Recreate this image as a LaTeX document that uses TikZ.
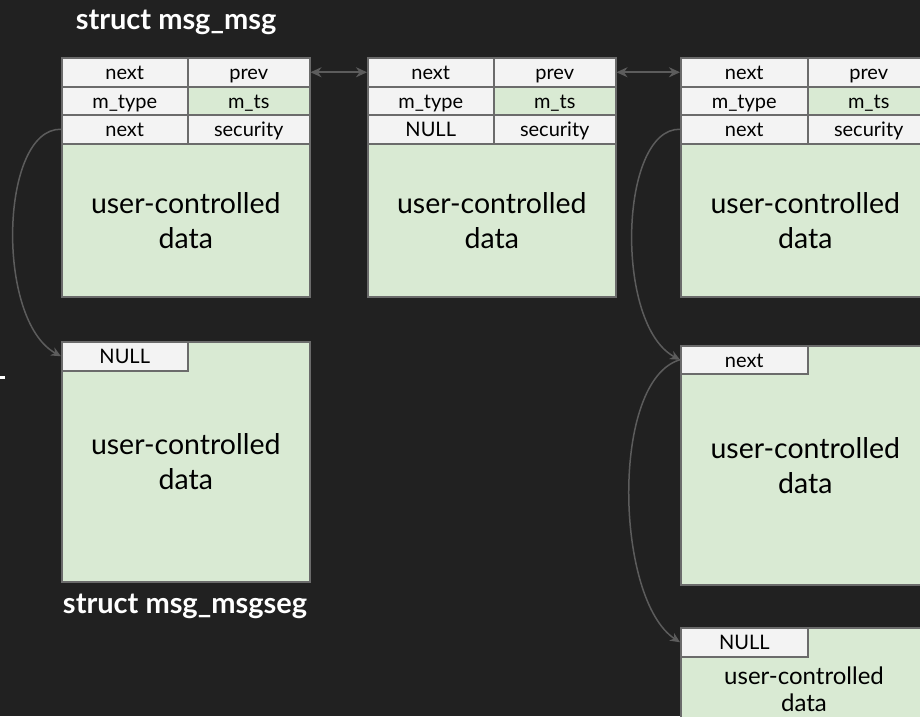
\documentclass[tikz,border=0pt]{standalone}
\usepackage{fontspec}
\setmainfont{Lato}
\usetikzlibrary{arrows.meta}

\definecolor{bg}{HTML}{212121}
\definecolor{fieldgray}{HTML}{F3F3F3}
\definecolor{datagreen}{HTML}{D9EAD3}
\definecolor{frame}{HTML}{6B6B6B}
\definecolor{wire}{HTML}{5C5C5C}

\tikzset{
  field/.style={draw=frame, line width=1.5pt, fill=fieldgray, inner sep=0pt,
    text height=17pt, text depth=2pt,
    anchor=north west, text=black, font=\fontsize{20}{22}\selectfont},
  tsfield/.style={field, fill=datagreen},
  payload/.style={draw=frame, line width=1.5pt, fill=datagreen, inner sep=0pt,
    anchor=north west, align=center, text=black, font=\fontsize{28.5}{35}\selectfont},
  title/.style={text=white, font=\bfseries\fontsize{29}{31}\selectfont},
  link/.style={draw=wire, line width=1.5pt, -{Stealth[length=10pt,width=9pt]}},
  dlink/.style={draw=wire, line width=2pt,
    {Stealth[length=11pt,width=10pt]}-{Stealth[length=11pt,width=10pt]}}
}

\begin{document}
\begin{tikzpicture}[x=1pt, y=-1pt]
            \useasboundingbox (0,0) rectangle (920,716);
            \fill[bg] (0,0) rectangle (920,716);
            \clip (0,0) rectangle (920,716);

            \node[title] (T1) at (176,22)  {struct msg\_msg};
            \node[title] (T2) at (185,606) {struct msg\_msgseg};
            \fill[white] (0,376) rectangle (5,379);

            % first msg_msg
            \node[field, minimum width=126pt, minimum height=29pt] (A1) at (61,57)  {next};
            \node[field, minimum width=122pt, minimum height=29pt] (A2) at (187,57) {prev};
            \node[field, minimum width=126pt, minimum height=28pt] (A3) at (61,86)  {m\_type};
            \node[tsfield, minimum width=122pt, minimum height=28pt] (A4) at (187,86) {m\_ts};
            \node[field, minimum width=126pt, minimum height=29pt] (A5) at (61,114) {next};
            \node[field, minimum width=122pt, minimum height=29pt] (A6) at (187,114) {security};
            \node[payload, minimum width=248pt, minimum height=153pt] (A7) at (61,143) {user-controlled\\data};

            % second msg_msg
            \node[field, minimum width=126pt, minimum height=29pt] (B1) at (367,57)  {next};
            \node[field, minimum width=122pt, minimum height=29pt] (B2) at (493,57) {prev};
            \node[field, minimum width=126pt, minimum height=28pt] (B3) at (367,86)  {m\_type};
            \node[tsfield, minimum width=122pt, minimum height=28pt] (B4) at (493,86) {m\_ts};
            \node[field, minimum width=126pt, minimum height=29pt] (B5) at (367,114) {NULL};
            \node[field, minimum width=122pt, minimum height=29pt] (B6) at (493,114) {security};
            \node[payload, minimum width=248pt, minimum height=153pt] (B7) at (367,143) {user-controlled\\data};

            % third msg_msg
            \node[field, minimum width=127pt, minimum height=29pt] (C1) at (680,57)  {next};
            \node[field, minimum width=122pt, minimum height=29pt] (C2) at (807,57) {prev};
            \node[field, minimum width=127pt, minimum height=28pt] (C3) at (680,86)  {m\_type};
            \node[tsfield, minimum width=122pt, minimum height=28pt] (C4) at (807,86) {m\_ts};
            \node[field, minimum width=127pt, minimum height=29pt] (C5) at (680,114) {next};
            \node[field, minimum width=122pt, minimum height=29pt] (C6) at (807,114) {security};
            \node[payload, minimum width=249pt, minimum height=153pt] (C7) at (680,143) {user-controlled\\data};

            % msg_msgseg
            \node[payload, minimum width=248pt, minimum height=240pt] (D2) at (61,341) {user-controlled\\data};
            \node[field, minimum width=126pt, minimum height=29pt] (D1) at (61,341) {NULL};

            \node[payload, minimum width=249pt, minimum height=239pt] (E2) at (680,345) {user-controlled\\data};
            \node[field, minimum width=127pt, minimum height=28pt] (E1) at (680,345) {next};

            \node[payload, minimum width=249pt, minimum height=140pt] (F2) at (680,627) {};
            \node[field, minimum width=127pt, minimum height=29pt] (F1) at (680,627) {NULL};
            \node[align=center, font=\fontsize{24}{27}\selectfont] (F3) at (804,689) {user-controlled\\data};

            \draw[dlink] (A2.east) -- (B1.west);
            \draw[dlink] (B2.east) -- (C1.west);

            \draw[link] (A5.west) .. controls (0,128) and (-5,320) .. (D1.west);
            \draw[link] (C5.west) .. controls (619,128) and (614,325) .. (E1.west);
            \draw[link] (E1.west) .. controls (610,380) and (615,600) .. (F1.west);

        \end{tikzpicture}
\end{document}
